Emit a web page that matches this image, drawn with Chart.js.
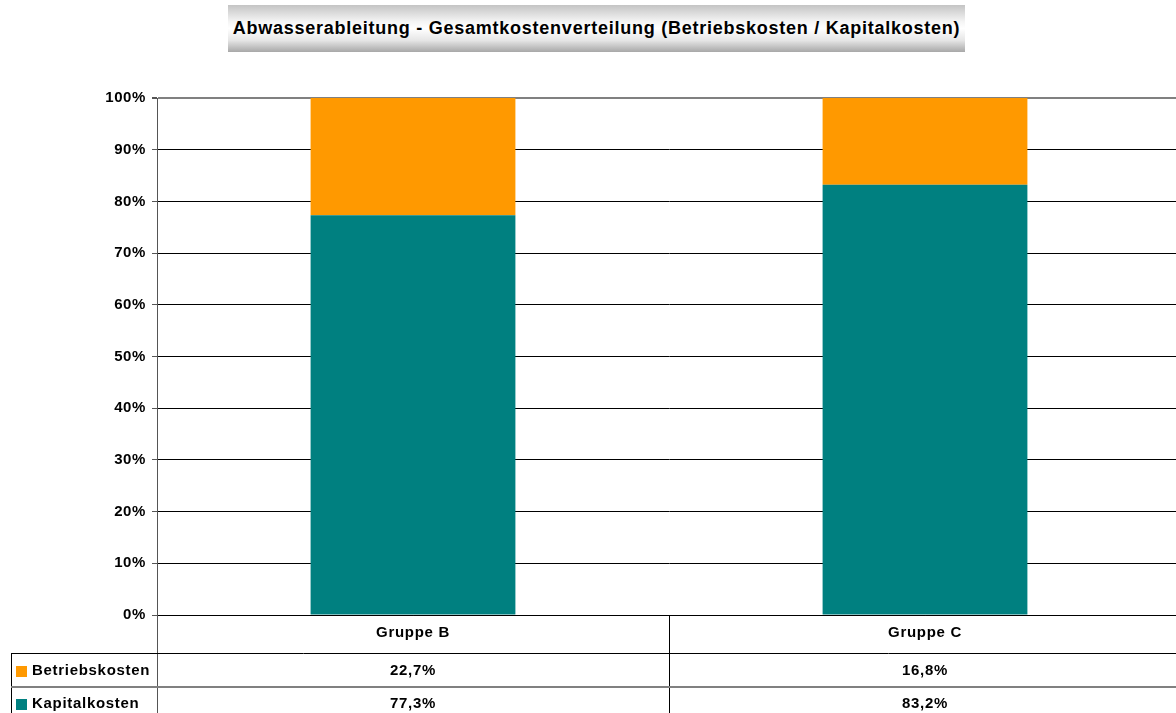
<!DOCTYPE html>
<html>
<head>
<meta charset="utf-8">
<script src="https://cdn.jsdelivr.net/npm/chart.js@4.4.1/dist/chart.umd.min.js"></script>
<style>
  html, body { margin: 0; padding: 0; background: #fff; }
  #wrap { position: relative; width: 1176px; height: 713px; overflow: hidden; }
  #title {
    position: absolute; left: 228px; top: 5px; width: 737px; height: 47px;
    background: linear-gradient(to bottom, #c4c4c4 0%, #f4f4f4 35%, #ffffff 50%, #e6e6e6 75%, #a8a8a8 100%);
    font: bold 18px 'Liberation Sans', Arial, sans-serif;
    letter-spacing: 0.75px;
    color: #000; text-align: center; line-height: 47px; z-index: 2; white-space: nowrap;
  }
  canvas { position: absolute; left: 0; top: 0; }
</style>
</head>
<body>
<div id="wrap">
  <div id="title">Abwasserableitung - Gesamtkostenverteilung (Betriebskosten / Kapitalkosten)</div>
  <canvas id="chart" width="1190" height="713"></canvas>
</div>
<script>
/* ─── data ─── */
const categories = ['Gruppe B', 'Gruppe C'];
const betriebskosten = [22.7, 16.8];
const kapitalkosten = [77.3, 83.2];
const seriesNames = ['Betriebskosten', 'Kapitalkosten'];

const ORANGE = '#FF9900';
const TEAL = '#008080';
const FONT = "'Liberation Sans', Arial, sans-serif";

const fmt = (v) => v.toFixed(1).replace('.', ',') + '%';

/* wider glyph spacing for the axis labels */
const spacing = {
  id: 'spacing',
  beforeDraw(chart) { chart.ctx.letterSpacing = '0.6px'; },
};

/* ─── data table drawn under the plot ─── */
const dataTable = {
  id: 'dataTable',
  afterDraw(chart) {
    const { ctx, chartArea, scales } = chart;
    const x = scales.x;
    const top = chartArea.bottom;
    const row1 = 653, row2 = 687, bottom = 713;
    const left = 11, right = chartArea.right;
    const centers = categories.map((_, i) => x.getPixelForValue(i));
    const bounds = [chartArea.left];
    for (let i = 0; i < centers.length - 1; i++) bounds.push((centers[i] + centers[i + 1]) / 2);
    bounds.push(right);

    ctx.save();
    ctx.lineWidth = 1;
    // y-axis continued down through the table
    ctx.strokeStyle = '#555';
    ctx.beginPath();
    ctx.moveTo(Math.round(chartArea.left) + 0.5, top);
    ctx.lineTo(Math.round(chartArea.left) + 0.5, bottom);
    ctx.stroke();

    ctx.strokeStyle = '#000';
    ctx.beginPath();
    bounds.slice(1).forEach((b) => {
      ctx.moveTo(Math.round(b) + 0.5, top);
      ctx.lineTo(Math.round(b) + 0.5, bottom);
    });
    ctx.moveTo(left + 0.5, row1);
    ctx.lineTo(left + 0.5, bottom);
    ctx.moveTo(left, row1 + 0.5);
    ctx.lineTo(right, row1 + 0.5);
    ctx.stroke();

    ctx.strokeStyle = '#808080';
    ctx.lineWidth = 2;
    ctx.beginPath();
    ctx.moveTo(left, row2);
    ctx.lineTo(right, row2);
    ctx.stroke();

    ctx.letterSpacing = '0.7px';
    ctx.fillStyle = '#000';
    ctx.font = 'bold 15px ' + FONT;
    ctx.textAlign = 'center';
    ctx.textBaseline = 'middle';
    categories.forEach((c, i) => ctx.fillText(c, centers[i], 633));

    const rows = [
      { name: seriesNames[0], color: ORANGE, values: betriebskosten, y: 671 },
      { name: seriesNames[1], color: TEAL, values: kapitalkosten, y: 704 },
    ];
    rows.forEach((r) => {
      ctx.fillStyle = r.color;
      ctx.fillRect(16, r.y - 5, 11, 11);
      ctx.fillStyle = '#000';
      ctx.textAlign = 'left';
      ctx.fillText(r.name, 32, r.y);
      ctx.textAlign = 'center';
      r.values.forEach((v, i) => ctx.fillText(fmt(v), centers[i], r.y));
    });
    ctx.restore();
  },
};

new Chart(document.getElementById('chart'), {
  type: 'bar',
  data: {
    labels: categories,
    datasets: [
      { label: seriesNames[1], data: kapitalkosten, backgroundColor: TEAL },
      { label: seriesNames[0], data: betriebskosten, backgroundColor: ORANGE },
    ],
  },
  options: {
    responsive: false,
    animation: false,
    categoryPercentage: 1,
    barPercentage: 0.4,
    layout: { padding: { top: 98, right: 9, left: 0, bottom: 0 } },
    plugins: { legend: { display: false }, tooltip: { enabled: false }, title: { display: false } },
    scales: {
      x: {
        stacked: true,
        grid: { display: false },
        border: { display: true, color: '#000' },
        ticks: { display: false },
        afterFit: (s) => { s.height = 98; },
      },
      y: {
        stacked: true,
        min: 0,
        max: 100,
        ticks: {
          stepSize: 10,
          padding: 6,
          color: '#000',
          font: { family: FONT, size: 15, weight: 'bold' },
          callback: (v) => v + '%',
        },
        grid: {
          color: (c) => (c.tick && c.tick.value === 100 ? '#808080' : '#000'),
          tickColor: '#555',
          tickLength: 5,
          lineWidth: (c) => (c.tick && c.tick.value === 100 ? 2 : 1),
        },
        border: { color: '#555' },
        afterFit: (s) => { s.width = 157; },
      },
    },
  },
  plugins: [spacing, dataTable],
});
</script>
</body>
</html>
